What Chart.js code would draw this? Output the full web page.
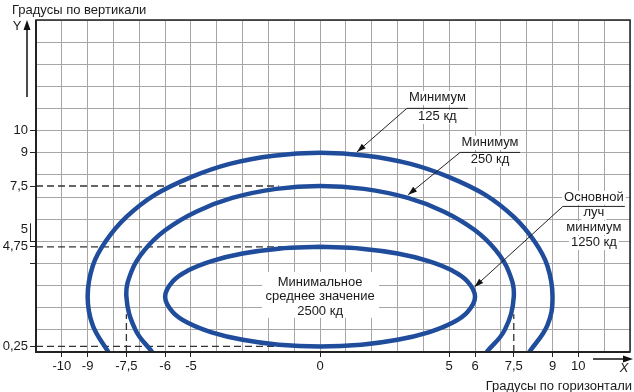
<!DOCTYPE html>
<html><head><meta charset="utf-8">
<script src="https://cdn.jsdelivr.net/npm/chart.js@4/dist/chart.umd.min.js"></script>
<style>html,body{margin:0;padding:0;background:#fff}canvas{display:block}</style>
</head><body>
<canvas id="c" width="634" height="392"></canvas>
<script>
// ---- tick labels ----
const xTickValues = [-10, -9, -7.5, -6, -5, 0, 5, 6, 7.5, 9, 10];
const xTickLabels = ['-10', '-9', '-7,5', '-6', '-5', '0', '5', '6', '7,5', '9', '10'];
const yTickValues = [10, 9, 7.5, 5, 4.75, 4, 0.25];
const yTickLabels = ['10', '9', '7,5', '5', '4,75', '', '0,25'];

// ---- isocandela curves (degrees) ----
const curve125X = [-8.2, -8.8, -9.0, -8.8, -8.3, -7.5, -6.4, -5.0, -3.5, -1.8, 0, 1.8, 3.5, 5.0, 6.4, 7.5, 8.3, 8.8, 9.0, 8.8, 8.1];
const curve125Y = [0, 1.2, 2.5, 3.9, 5.0, 6.1, 7.1, 7.9, 8.5, 8.87, 9.0, 8.87, 8.5, 7.9, 7.1, 6.1, 5.0, 3.9, 2.5, 1.2, 0];
const curve250X = [-6.5, -7.15, -7.5, -7.3, -6.8, -6.0, -4.8, -3.4, -1.7, 0, 1.7, 3.4, 4.8, 6.0, 6.8, 7.3, 7.5, 7.15, 6.45];
const curve250Y = [0, 1.0, 2.5, 3.65, 4.6, 5.5, 6.34, 6.96, 7.37, 7.5, 7.37, 6.96, 6.34, 5.5, 4.6, 3.65, 2.5, 1.0, 0];
const curve2500X = [0, -1.6, -3.0, -4.2, -5.1, -5.7, -6.0, -5.7, -5.1, -4.2, -3.0, -1.6, 0, 1.6, 3.0, 4.2, 5.1, 5.7, 6.0, 5.7, 5.1, 4.2, 3.0, 1.6, 0];
const curve2500Y = [4.75, 4.67, 4.45, 4.11, 3.69, 3.2, 2.5, 1.8, 1.31, 0.89, 0.55, 0.33, 0.25, 0.33, 0.55, 0.89, 1.31, 1.8, 2.5, 3.2, 3.69, 4.11, 4.45, 4.67, 4.75];

// ---- dashed reference lines ----
const dash75X = [-11, -1.6];   const dash75Y = [7.5, 7.5];
const dash475X = [-11, -0.1];  const dash475Y = [4.75, 4.75];
const dash025X = [-11, 0];     const dash025Y = [0.25, 0.25];
const dashVLX = [-7.5, -7.5];  const dashVLY = [0, 1.7];
const dashVRX = [7.5, 7.5];    const dashVRY = [0, 1.7];

// ---- texts ----
const titleY = 'Градусы по вертикали';
const titleX = 'Градусы по горизонтали';
const note125 = ['Минимум', '125 кд'];
const note250 = ['Минимум', '250 кд'];
const note1250 = ['Основной', 'луч', 'минимум', '1250 кд'];
const noteCenter = ['Минимальное', 'среднее значение', '2500 кд'];

const FONT = "'Liberation Sans', Arial, Helvetica, sans-serif";
const BLUE = '#1f4c9b';
const INK = '#1a1a1a';

const pts = (xs, ys) => xs.map((v, i) => ({x: v, y: ys[i]}));
const curve = (xs, ys) => ({data: pts(xs, ys), showLine: true, borderColor: BLUE, borderWidth: 4.5, pointRadius: 0, tension: 0.4, fill: false});
const dash = (xs, ys) => ({data: pts(xs, ys), showLine: true, borderColor: '#333', borderWidth: 1.3, borderDash: [7, 4], pointRadius: 0, tension: 0, fill: false});

// annotation layout (anchor = left end of underline, in axis units; offsets in px)
const notes = [
  {lines: note125, ax: 3.36, ay: 11.03, uw: 61, dy: [-10, 9], tx: 1.43, ty: 9.04},
  {lines: note250, ax: 5.42, ay: 9.04, uw: 60, dy: [-9, 8], tx: 3.41, ty: 7.1},
  {lines: note1250, ax: 9.4, ay: 6.6, uw: 62, dy: [-8, 7, 22, 37], tx: 5.98, ty: 2.94}
];

function arrowHead(ctx, x0, y0, x1, y1, len, w) {
  const ang = Math.atan2(y1 - y0, x1 - x0);
  ctx.beginPath();
  ctx.moveTo(x1, y1);
  ctx.lineTo(x1 - len * Math.cos(ang) + w * Math.sin(ang), y1 - len * Math.sin(ang) - w * Math.cos(ang));
  ctx.lineTo(x1 - len * Math.cos(ang) - w * Math.sin(ang), y1 - len * Math.sin(ang) + w * Math.cos(ang));
  ctx.closePath();
  ctx.fill();
}

const decor = {
  id: 'decor',
  afterDatasetsDraw(chart) {
    const {ctx, scales: {x, y}} = chart;
    ctx.save();
    ctx.font = '13px ' + FONT;
    ctx.textAlign = 'center';
    ctx.textBaseline = 'middle';
    // centre label
    const cx = x.getPixelForValue(0), cy = y.getPixelForValue(2.49);
    ctx.fillStyle = '#fff';
    ctx.fillRect(cx - 58, cy - 25, 117, 46);
    ctx.fillStyle = INK;
    [-14, 0, 15].forEach((d, i) => ctx.fillText(noteCenter[i], cx, cy + d));
    // callouts
    notes.forEach(n => {
      const ax = x.getPixelForValue(n.ax), ay = y.getPixelForValue(n.ay);
      const tx = x.getPixelForValue(n.tx), ty = y.getPixelForValue(n.ty);
      const mid = ax + n.uw / 2;
      n.lines.forEach((t, i) => {
        const w = ctx.measureText(t).width;
        ctx.fillStyle = '#fff';
        ctx.fillRect(mid - w / 2 - 2, ay + n.dy[i] - 7, w + 4, 14);
      });
      ctx.fillStyle = INK;
      n.lines.forEach((t, i) => ctx.fillText(t, mid, ay + n.dy[i]));
      ctx.strokeStyle = '#222';
      ctx.lineWidth = 1;
      ctx.beginPath();
      ctx.moveTo(ax + n.uw, ay + 0.5); ctx.lineTo(ax, ay + 0.5); ctx.lineTo(tx, ty);
      ctx.stroke();
      ctx.fillStyle = '#111';
      arrowHead(ctx, ax, ay, tx, ty, 9, 3);
    });
    ctx.restore();
  },
  afterDraw(chart) {
    const {ctx, chartArea: a, scales: {y}} = chart;
    ctx.save();
    // frame
    ctx.strokeStyle = '#222';
    ctx.lineWidth = 1.5;
    ctx.strokeRect(a.left, a.top, a.right - a.left, a.bottom - a.top);
    ctx.lineWidth = 2;
    ctx.beginPath();
    ctx.moveTo(a.left, a.top); ctx.lineTo(a.left, a.bottom); ctx.lineTo(a.right, a.bottom);
    ctx.stroke();
    // bracket for "5"
    const y5 = y.getPixelForValue(5);
    ctx.lineWidth = 1;
    ctx.beginPath();
    ctx.moveTo(30.5, y5 - 18); ctx.lineTo(30.5, y5);
    ctx.stroke();
    // Y arrow
    ctx.strokeStyle = '#111'; ctx.fillStyle = '#111';
    ctx.lineWidth = 1.5;
    ctx.beginPath(); ctx.moveTo(27, 97); ctx.lineTo(27, 28); ctx.stroke();
    arrowHead(ctx, 27, 97, 27, 20, 10, 3.5);
    // X arrow
    ctx.beginPath(); ctx.moveTo(593, 359); ctx.lineTo(625, 359); ctx.stroke();
    arrowHead(ctx, 593, 359, 633, 359, 10, 3.5);
    // titles
    ctx.fillStyle = INK;
    ctx.font = '13px ' + FONT;
    ctx.textBaseline = 'alphabetic';
    ctx.textAlign = 'left';
    ctx.fillText(titleY, 12, 13.5);
    ctx.textAlign = 'right';
    ctx.fillText(titleX, 632, 389.5);
    ctx.textAlign = 'center';
    ctx.textBaseline = 'middle';
    ctx.fillText('Y', 17, 26);
    ctx.font = 'italic 13px ' + FONT;
    ctx.fillText('X', 624, 368);
    ctx.restore();
  }
};

Chart.defaults.font.family = FONT;

new Chart(document.getElementById('c'), {
  type: 'scatter',
  data: {
    datasets: [
      curve(curve125X, curve125Y),
      curve(curve250X, curve250Y),
      curve(curve2500X, curve2500Y),
      dash(dash75X, dash75Y),
      dash(dash475X, dash475Y),
      dash(dash025X, dash025Y),
      dash(dashVLX, dashVLY),
      dash(dashVRX, dashVRY)
    ]
  },
  options: {
    responsive: false,
    animation: false,
    layout: {padding: {left: 0, right: 4, top: 20, bottom: 0}},
    plugins: {legend: {display: false}, tooltip: {enabled: false}},
    scales: {
      x: {type: 'linear', min: -11, max: 12,
          ticks: {display: false, stepSize: 1},
          grid: {color: '#a6a6a6', lineWidth: 1, drawTicks: false},
          border: {display: false}},
      y: {type: 'linear', min: 0, max: 15,
          ticks: {display: false, stepSize: 1},
          grid: {color: '#a6a6a6', lineWidth: 1, drawTicks: false},
          border: {display: false}},
      xl: {type: 'linear', position: 'bottom', min: -11, max: 12,
           afterBuildTicks: s => { s.ticks = xTickValues.map(v => ({value: v})); },
           afterFit: s => { s.height = 40; s.paddingLeft = 0; s.paddingRight = 0; },
           grid: {drawOnChartArea: false, drawTicks: true, tickLength: 5, tickColor: '#222', color: '#222'},
           border: {display: false},
           ticks: {autoSkip: false, maxRotation: 0, padding: 2, color: INK, font: {size: 13},
                   callback: v => xTickLabels[xTickValues.indexOf(v)]}},
      yl: {type: 'linear', position: 'left', min: 0, max: 15,
           afterBuildTicks: s => { s.ticks = yTickValues.map(v => ({value: v})); },
           afterFit: s => { s.width = 36; s.paddingTop = 0; s.paddingBottom = 0; },
           grid: {drawOnChartArea: false, drawTicks: true, tickLength: 6, tickColor: '#222', color: '#222'},
           border: {display: false},
           ticks: {autoSkip: false, padding: 2, color: INK,
                   font: c => ({size: 13, lineHeight: (c.tick && c.tick.value === 5) ? 1.8 : 1.2}),
                   callback: v => { const l = yTickLabels[yTickValues.indexOf(v)]; return v === 5 ? [l, ''] : l; }}}
    }
  },
  plugins: [decor]
});
</script>
</body></html>
